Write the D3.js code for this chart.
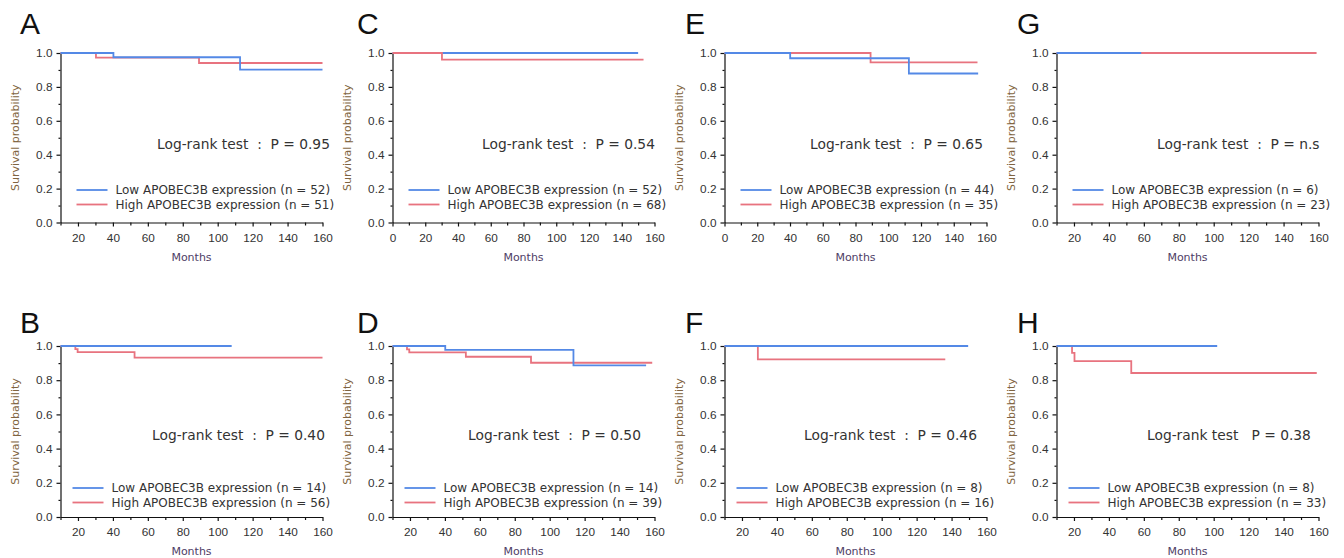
<!DOCTYPE html>
<html>
<head>
<meta charset="utf-8">
<script src="https://cdn.jsdelivr.net/npm/d3@7"></script>
<style>
body { margin: 0; background: #fff; }
svg { display: block; font-family: "DejaVu Sans", Verdana, sans-serif; }
.axis path, .axis line { stroke: #111; stroke-width: 1.2; }
.axis text { fill: #333; font-size: 11.8px; }
.minor path { display: none; }
.curve { fill: none; stroke-width: 1.8; }
</style>
</head>
<body>
<svg width="1344" height="558"></svg>
<script>
// panels, top row then bottom row
var panelNames = ["A", "C", "E", "G", "B", "D", "F", "H"];
var lowN = [52, 52, 44, 6, 14, 14, 8, 8];
var highN = [51, 68, 35, 23, 56, 39, 16, 33];
var pValues = ["0.95", "0.54", "0.65", "n.s", "0.40", "0.50", "0.46", "0.38"];
var monthStart = [10, 0, 0, 10, 10, 10, 10, 10];
var yTicks = [0, 0.2, 0.4, 0.6, 0.8, 1.0];

// [month, survival from that month on]
var lowCurves = [
  [[10, 1], [40.3, 0.975], [112.8, 0.902], [160, 0.902]],
  [[0, 1], [150, 1]],
  [[0, 1], [40.1, 0.969], [112.6, 0.879], [154.9, 0.879]],
  [[10, 1], [58.5, 1]],
  [[10, 1], [108, 1]],
  [[10, 1], [40.2, 0.977], [113.6, 0.887], [155.2, 0.887]],
  [[10, 1], [149.5, 1]],
  [[10, 1], [102, 1]]
];
var highCurves = [
  [[10, 1], [30.3, 0.973], [89.3, 0.941], [160, 0.941]],
  [[0, 1], [30.2, 0.961], [153.3, 0.961]],
  [[0, 1], [89.2, 0.945], [154.5, 0.945]],
  [[10, 1], [158.9, 1]],
  [[10, 1], [18.5, 0.982], [19.8, 0.964], [52.4, 0.932], [160, 0.932]],
  [[10, 1], [18.3, 0.98], [19.6, 0.963], [52, 0.937], [89.3, 0.902], [158.7, 0.902]],
  [[10, 1], [29.1, 0.922], [136.4, 0.922]],
  [[10, 1], [18.9, 0.96], [20.3, 0.912], [52.8, 0.842], [159, 0.842]]
];

var lowColor = "#5489e6",
    highColor = "#e8737f";

// layout
var colLeft = [60.5, 392.5, 724.5, 1056.5],
    plotW = 262,
    rowTop = [53, 346],
    rowBottom = [222.5, 517],
    letterX = [20, 357, 685, 1017],
    letterY = [34, 333],
    logRankX = [96.5, 89.5, 85.5, 100.5, 91.5, 75.5, 79.5, 90.5],
    logRankY = [149, 440],
    legendX = [16, 12],
    legendY = [190, 488],
    highOnTop = [false, true, false, false, false, false, false, false];

var svg = d3.select("svg");

panelNames.forEach(function (name, i) {
  var col = i % 4, row = Math.floor(i / 4);
  var left = colLeft[col], top = rowTop[row], bottom = rowBottom[row];

  var x = d3.scaleLinear().domain([monthStart[i], 160]).range([left, left + plotW]),
      y = d3.scaleLinear().domain([0, 1]).range([bottom, top]);

  var g = svg.append("g").attr("class", "panel");

  g.append("text")
    .attr("x", letterX[col])
    .attr("y", letterY[row])
    .style("font-family", "'Liberation Sans', Arial, sans-serif")
    .style("font-size", "30px")
    .attr("fill", "#111")
    .text(name);

  // axes
  var majorX = d3.range(monthStart[i] === 0 ? 0 : 20, 161, 20);
  var minorX = d3.range(10, 160, 20);

  g.append("g")
    .attr("class", "axis minor")
    .attr("transform", "translate(0," + bottom + ")")
    .call(d3.axisBottom(x).tickValues(minorX).tickSize(3).tickFormat(""));

  g.append("g")
    .attr("class", "axis minor")
    .attr("transform", "translate(" + left + ",0)")
    .call(d3.axisLeft(y).tickValues([0.1, 0.3, 0.5, 0.7, 0.9]).tickSize(2).tickFormat(""));

  g.append("g")
    .attr("class", "axis axis--x")
    .attr("transform", "translate(0," + bottom + ")")
    .call(d3.axisBottom(x).tickValues(majorX).tickSize(4).tickSizeOuter(0).tickPadding(7));

  g.append("g")
    .attr("class", "axis axis--y")
    .attr("transform", "translate(" + left + ",0)")
    .call(d3.axisLeft(y).tickValues(yTicks).tickFormat(d3.format(".1f")).tickSize(4).tickSizeOuter(0).tickPadding(4));

  g.append("text")
    .attr("x", left + plotW / 2)
    .attr("y", bottom + 38)
    .attr("text-anchor", "middle")
    .style("font-size", "11px")
    .attr("fill", "#4e3d66")
    .text("Months");

  g.append("text")
    .attr("transform", "translate(" + (left - 42) + "," + ((top + bottom) / 2) + ") rotate(-90)")
    .attr("text-anchor", "middle")
    .style("font-size", "11px")
    .attr("fill", "#7f6440")
    .text("Survival probability");

  // curves
  var line = d3.line()
    .curve(d3.curveStepAfter)
    .x(function (d) { return x(d[0]); })
    .y(function (d) { return y(d[1]); });

  var series = [
    {data: highCurves[i], color: highColor},
    {data: lowCurves[i], color: lowColor}
  ];
  if (highOnTop[i]) series.reverse();

  series.forEach(function (s) {
    g.append("path")
      .datum(s.data)
      .attr("class", "curve")
      .attr("stroke", s.color)
      .attr("d", line);
  });

  // log-rank text
  var sep = name === "H" ? "   " : "  :  ";
  g.append("text")
    .attr("x", left + logRankX[i])
    .attr("y", logRankY[row])
    .attr("xml:space", "preserve")
    .style("white-space", "pre")
    .style("font-size", "13.8px")
    .attr("fill", "#333")
    .text("Log-rank test" + sep + "P = " + pValues[i]);

  // legend
  var legend = [
    {label: "Low APOBEC3B expression (n = " + lowN[i] + ")", color: lowColor},
    {label: "High APOBEC3B expression (n = " + highN[i] + ")", color: highColor}
  ];
  legend.forEach(function (d, k) {
    var ly = legendY[row] + k * 14.5;
    g.append("line")
      .attr("x1", left + legendX[row])
      .attr("x2", left + legendX[row] + 31)
      .attr("y1", ly)
      .attr("y2", ly)
      .attr("stroke", d.color)
      .attr("stroke-width", 1.8);
    g.append("text")
      .attr("x", left + legendX[row] + 39)
      .attr("y", ly + 4.3)
      .style("font-size", "12px")
      .attr("fill", "#333")
      .text(d.label);
  });
});
</script>
</body>
</html>
